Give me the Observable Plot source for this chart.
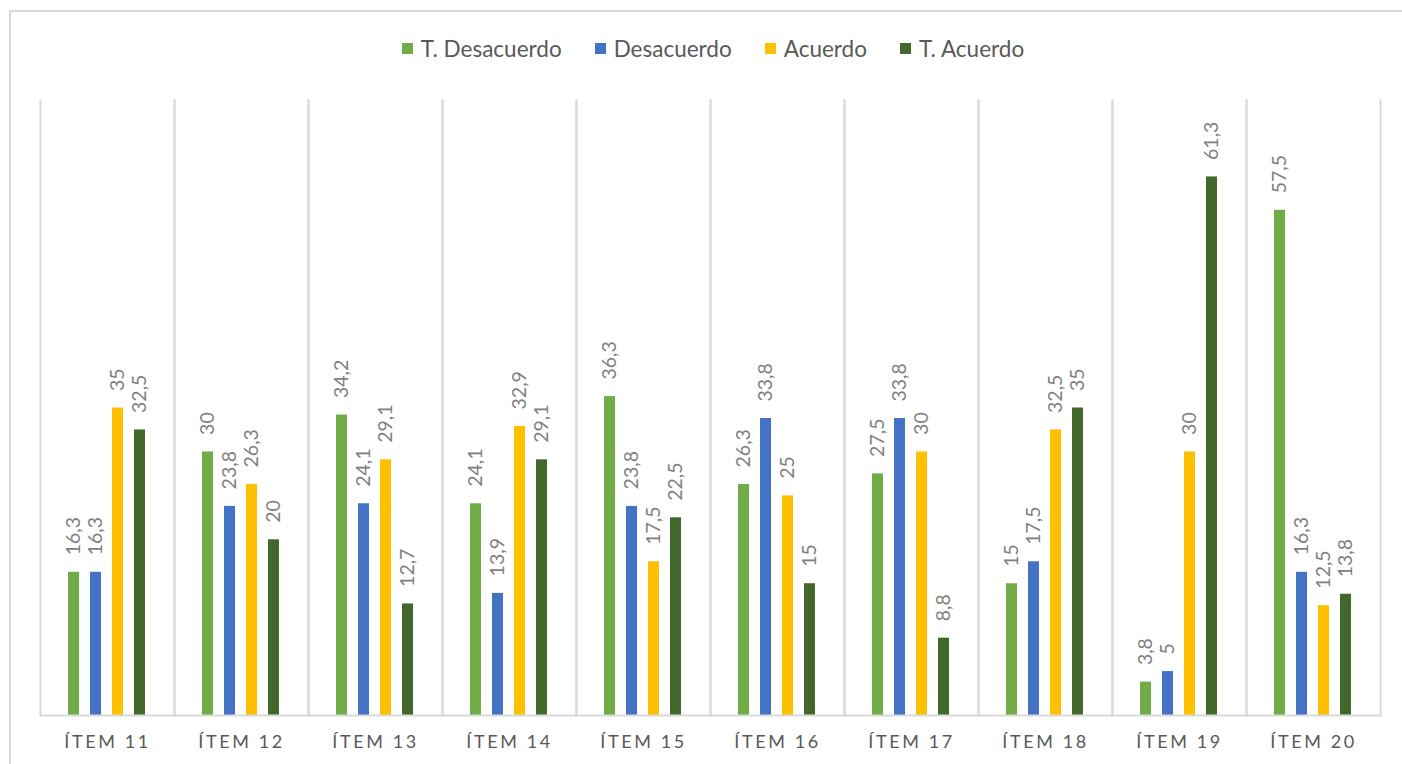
<!DOCTYPE html>
<html>
<head>
<meta charset="utf-8">
<script src="https://cdn.jsdelivr.net/npm/d3@7"></script>
<script src="https://cdn.jsdelivr.net/npm/@observablehq/plot@0.6"></script>
<style>
  html, body { margin: 0; padding: 0; background: #fff; overflow: hidden; }
  #wrap { position: relative; width: 1402px; height: 764px; font-family: Lato, "Open Sans", sans-serif; }
  #border { position: absolute; left: 9px; top: 10px; width: 1420px; height: 800px; border: 2px solid #d9d9d9; box-sizing: border-box; }
  #legend { position: relative; height: 90px; display: flex; justify-content: center; align-items: flex-start; padding-top: 35px; box-sizing: border-box; gap: 33px; font-size: 22.5px; color: #595959; padding-left: 24px; }
  .item { display: flex; align-items: center; gap: 8px; }
  .sw { width: 11px; height: 11px; display: inline-block; }
  #chart { position: relative; }
  #chart svg { display: block; overflow: visible; }
  .fxaxis text { letter-spacing: 2.6px; }
</style>
</head>
<body>
<div id="wrap">
  <div id="border"></div>
  <div id="legend"></div>
  <div id="chart"></div>
</div>
<script>
const items = ["ÍTEM 11","ÍTEM 12","ÍTEM 13","ÍTEM 14","ÍTEM 15","ÍTEM 16","ÍTEM 17","ÍTEM 18","ÍTEM 19","ÍTEM 20"];
const series = ["T. Desacuerdo","Desacuerdo","Acuerdo","T. Acuerdo"];
const colors = ["#70ad47","#4472c4","#ffc000","#43682b"];
const tDesacuerdo = [16.3, 30, 34.2, 24.1, 36.3, 26.3, 27.5, 15, 3.8, 57.5];
const desacuerdo  = [16.3, 23.8, 24.1, 13.9, 23.8, 33.8, 33.8, 17.5, 5, 16.3];
const acuerdo     = [35, 26.3, 29.1, 32.9, 17.5, 25, 30, 32.5, 30, 12.5];
const tAcuerdo    = [32.5, 20, 12.7, 29.1, 22.5, 15, 8.8, 35, 61.3, 13.8];

const seriesValues = [tDesacuerdo, desacuerdo, acuerdo, tAcuerdo];
const data = [];
items.forEach((it, i) => {
  series.forEach((s, j) => data.push({item: it, serie: s, value: seriesValues[j][i]}));
});

// legend
const legend = document.getElementById("legend");
series.forEach((s, j) => {
  const d = document.createElement("div");
  d.className = "item";
  d.innerHTML = `<span class="sw" style="background:${colors[j]}"></span><span>${s}</span>`;
  legend.appendChild(d);
});

const fmt = v => String(v).replace(".", ",");

const chart = Plot.plot({
  width: 1402,
  height: 674,
  marginTop: 10,
  marginBottom: 49,
  marginLeft: 38,
  marginRight: 21,
  style: {fontFamily: "Lato, 'Open Sans', sans-serif", background: "transparent"},
  fx: {domain: items, padding: 0, label: null, axis: null},
  x: {domain: series, paddingInner: 0.48, paddingOuter: 1.16, axis: null},
  y: {domain: [0, 70], axis: null},
  color: {domain: series, range: colors},
  marks: [
    Plot.frame({anchor: "left", stroke: "#d9d9d9", strokeWidth: 2, strokeOpacity: 1}),
    Plot.frame({anchor: "right", stroke: "#d9d9d9", strokeWidth: 2, strokeOpacity: 1}),
    Plot.barY(data, {fx: "item", x: "serie", y: "value", fill: "serie"}),
    Plot.frame({anchor: "bottom", stroke: "#d9d9d9", strokeWidth: 2, strokeOpacity: 1}),
    Plot.text(data, {fx: "item", x: "serie", y: "value", text: d => fmt(d.value), rotate: -90, textAnchor: "start", dy: -17, fill: "#7f7f7f", fontSize: 19.5}),
    Plot.axisFx({anchor: "bottom", tickSize: 0, tickPadding: 20, fontSize: 18, color: "#595959", className: "fxaxis", label: null})
  ]
});
document.getElementById("chart").appendChild(chart);
</script>
</body>
</html>
